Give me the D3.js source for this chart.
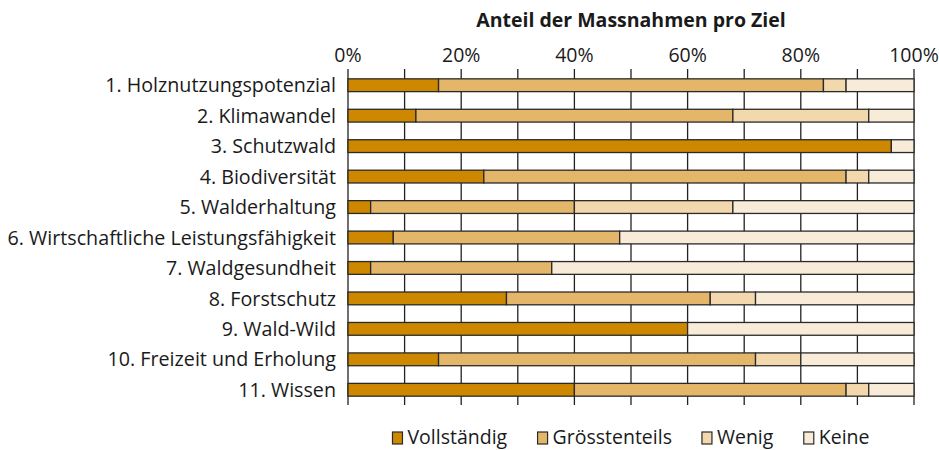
<!DOCTYPE html>
<html>
<head>
<meta charset="utf-8">
<script src="https://cdn.jsdelivr.net/npm/d3@7"></script>
<style>
  body { margin: 0; background: #fff; }
  text { font-family: "Open Sans", "Noto Sans", sans-serif; fill: #1a1a1a; }
</style>
</head>
<body>
<div class="chart"></div>
<script>
// data (percent of measures per goal)
var goals = ["1. Holznutzungspotenzial", "2. Klimawandel", "3. Schutzwald", "4. Biodiversität",
  "5. Walderhaltung", "6. Wirtschaftliche Leistungsfähigkeit", "7. Waldgesundheit",
  "8. Forstschutz", "9. Wald-Wild", "10. Freizeit und Erholung", "11. Wissen"];
var vollstaendig   = [16, 12, 96, 24, 4, 8, 4, 28, 60, 16, 40];
var groesstenteils = [68, 56, 0, 64, 36, 40, 32, 36, 0, 56, 48];
var wenig          = [4, 24, 0, 4, 28, 0, 0, 8, 0, 8, 4];
var keine          = [12, 8, 4, 8, 32, 52, 64, 28, 40, 20, 8];
var seriesNames = ["Vollständig", "Grösstenteils", "Wenig", "Keine"];
var seriesColors = ["#cd8800", "#e3b66a", "#f2d8ac", "#f8ebd8"];
var tickValues = [0, 10, 20, 30, 40, 50, 60, 70, 80, 90, 100];
var title = "Anteil der Massnahmen pro Ziel";

var svgWidth = 939;
var svgHeight = 450;
var plotLeft = 348, plotRight = 914, plotTop = 70, plotBottom = 405;

var svg = d3.select(".chart")
  .append("svg")
  .attr("width", svgWidth)
  .attr("height", svgHeight);

// build rows for the stack
var rows = goals.map(function(g, i) {
  return {
    goal: g,
    "Vollständig": vollstaendig[i],
    "Grösstenteils": groesstenteils[i],
    "Wenig": wenig[i],
    "Keine": keine[i]
  };
});
var stacked = d3.stack().keys(seriesNames)(rows);

// scales
var x = d3.scaleLinear().domain([0, 100]).range([plotLeft, plotRight]);
var y = d3.scaleBand()
  .domain(goals)
  .range([plotTop, plotBottom])
  .paddingInner(0.58)
  .paddingOuter(0.29);
var color = d3.scaleOrdinal().domain(seriesNames).range(seriesColors);

// grid lines / ticks (behind the bars)
svg.append("g")
  .selectAll("line")
  .data(tickValues)
  .enter()
  .append("line")
  .attr("x1", d => x(d))
  .attr("x2", d => x(d))
  .attr("y1", plotTop - 1)
  .attr("y2", plotBottom)
  .attr("stroke", "#222")
  .attr("stroke-width", 1.3);

// tick labels every 20%
svg.append("g")
  .selectAll("text")
  .data(tickValues.filter(d => d % 20 === 0))
  .enter()
  .append("text")
  .attr("x", d => x(d))
  .attr("y", 62)
  .attr("text-anchor", "middle")
  .style("font-size", "19.5px")
  .text(d => d + "%");

// title
svg.append("text")
  .attr("x", (plotLeft + plotRight) / 2)
  .attr("y", 27)
  .attr("text-anchor", "middle")
  .style("font-size", "19.5px")
  .style("font-weight", "bold")
  .text(title);

// bars
svg.append("g")
  .selectAll("g")
  .data(stacked)
  .enter()
  .append("g")
  .attr("fill", d => color(d.key))
  .selectAll("rect")
  .data(d => d.filter(s => s[1] - s[0] > 0))
  .enter()
  .append("rect")
  .attr("x", d => x(d[0]))
  .attr("y", d => y(d.data.goal))
  .attr("width", d => x(d[1]) - x(d[0]))
  .attr("height", y.bandwidth())
  .attr("stroke", "#2a2a2a")
  .attr("stroke-width", 1.3);

// category labels
svg.append("g")
  .selectAll("text")
  .data(goals)
  .enter()
  .append("text")
  .attr("x", plotLeft - 12)
  .attr("y", d => y(d) + y.bandwidth() / 2)
  .attr("dy", "0.36em")
  .attr("text-anchor", "end")
  .style("font-size", "19.7px")
  .text(d => d);

// legend, centred under the plot
var legend = svg.append("g");
var items = legend.selectAll("g")
  .data(seriesNames)
  .enter()
  .append("g");
items.append("rect")
  .attr("width", 10)
  .attr("height", 12)
  .attr("y", 432)
  .attr("fill", d => color(d))
  .attr("stroke", "#2a2a2a")
  .attr("stroke-width", 1.2);
items.append("text")
  .attr("x", 15)
  .attr("y", 444)
  .style("font-size", "19.5px")
  .text(d => d);

var pos = 0;
var offsets = [];
items.each(function() {
  var w = this.getBBox().width;
  offsets.push(pos);
  pos += w + 30;
});
var total = pos - 30;
var start = (plotLeft + plotRight) / 2 - total / 2;
items.attr("transform", (d, i) => "translate(" + (start + offsets[i]) + ",0)");
</script>
</body>
</html>
